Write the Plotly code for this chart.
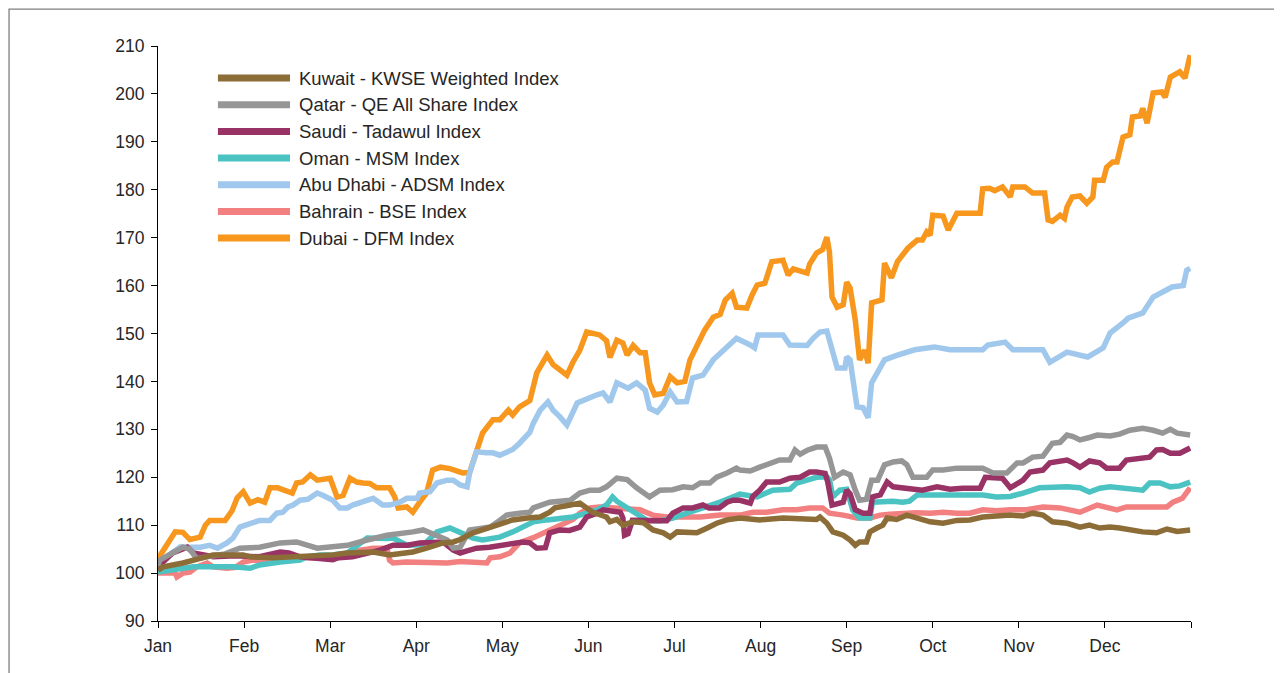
import plotly.graph_objects as go

# x = months elapsed since 1 Jan (0 = Jan, 12 = end of Dec); y = index level (rebased to 100)
month_labels = ["Jan", "Feb", "Mar", "Apr", "May", "Jun", "Jul", "Aug", "Sep", "Oct", "Nov", "Dec", ""]
month_ticks = list(range(13))

kuwait = [(0, 100.6), (0.06, 101.3), (0.29, 102.1), (0.41, 102.7), (0.52, 103.4), (0.64, 103.8), (0.99, 103.8),
          (1.07, 103.4), (1.34, 103.2), (1.65, 103.4), (2.03, 103.8), (2.20, 104.2), (2.50, 104.4), (2.69, 103.8),
          (2.96, 104.4), (3.12, 105.2), (3.31, 106.3), (3.43, 106.5), (3.51, 107), (3.66, 108.4), (3.82, 109.4),
          (3.97, 110.4), (4.12, 111.1), (4.29, 111.5), (4.44, 111.7), (4.55, 112.7), (4.61, 113.6), (4.79, 114.2),
          (4.90, 114.6), (5.05, 112.7), (5.21, 111.7), (5.25, 110.7), (5.33, 111.2), (5.40, 110), (5.52, 110.7),
          (5.64, 110.5), (5.75, 109), (5.87, 108.4), (5.95, 107.5), (6.03, 108.6), (6.26, 108.4), (6.38, 109.4),
          (6.49, 110.4), (6.61, 111.1), (6.76, 111.5), (6.99, 111.1), (7.26, 111.5), (7.65, 111.2), (7.69, 111.7),
          (7.77, 110.4), (7.84, 108.6), (7.96, 107.9), (8.04, 106.9), (8.10, 105.8), (8.15, 106.5), (8.23, 106.5),
          (8.27, 108.6), (8.35, 109.4), (8.42, 110), (8.47, 111.5), (8.58, 111.2), (8.70, 112.1), (8.82, 111.5),
          (8.97, 110.7), (9.12, 110.4), (9.28, 111), (9.43, 111.1), (9.58, 111.7), (9.90, 112.1), (10.05, 111.9),
          (10.16, 112.5), (10.28, 112.1), (10.39, 110.7), (10.56, 110.4), (10.71, 109.6), (10.82, 110),
          (10.94, 109.4), (11.06, 109.6), (11.17, 109.4), (11.29, 109), (11.44, 108.6), (11.60, 108.4),
          (11.72, 109.2), (11.84, 108.7), (11.99, 109)]

qatar = [(0, 101.5), (0.02, 102.7), (0.17, 104.2), (0.29, 105.4), (0.37, 105), (0.45, 103), (0.60, 103.5),
         (0.78, 104), (0.95, 105.2), (1.18, 105.4), (1.42, 106.3), (1.61, 106.5), (1.85, 105.2), (2.20, 105.8),
         (2.43, 106.9), (2.54, 107.5), (2.66, 107.9), (2.96, 108.6), (3.08, 109), (3.16, 108.4), (3.28, 107.5),
         (3.36, 106.9), (3.43, 105.2), (3.51, 105.4), (3.62, 109), (3.74, 109.2), (3.86, 109.6), (3.97, 111),
         (4.05, 112.1), (4.20, 112.5), (4.32, 112.7), (4.36, 113.6), (4.55, 114.8), (4.79, 115.2), (4.90, 116.7),
         (5.02, 117.3), (5.13, 117.3), (5.21, 118), (5.33, 119.8), (5.45, 119.5), (5.56, 117.8), (5.71, 115.9),
         (5.83, 117.3), (5.98, 117.4), (6.10, 118), (6.21, 117.8), (6.30, 118.8), (6.41, 118.8), (6.49, 120),
         (6.61, 120.9), (6.72, 121.9), (6.76, 121.5), (6.88, 121.3), (6.99, 122.1), (7.11, 123), (7.22, 123.6),
         (7.34, 123.6), (7.40, 125.7), (7.46, 124.8), (7.55, 125.7), (7.65, 126.3), (7.75, 126.3), (7.80, 124),
         (7.86, 120), (7.96, 121.1), (8.04, 120.5), (8.10, 117.3), (8.15, 115.2), (8.23, 115.4), (8.29, 119.4),
         (8.36, 119.4), (8.44, 122.6), (8.54, 123.2), (8.64, 123.4), (8.70, 122.6), (8.77, 120), (8.93, 120),
         (9.00, 121.5), (9.12, 121.5), (9.28, 121.9), (9.58, 121.9), (9.70, 120.9), (9.86, 120.9), (9.98, 123),
         (10.05, 123), (10.16, 124.2), (10.28, 124.4), (10.39, 127.1), (10.48, 127.3), (10.56, 128.8),
         (10.63, 128.5), (10.71, 127.8), (10.82, 128.3), (10.91, 128.8), (11.06, 128.6), (11.17, 129),
         (11.29, 129.8), (11.44, 130.2), (11.56, 129.8), (11.67, 129.2), (11.76, 130), (11.84, 129.2),
         (11.99, 128.8)]

saudi = [(0, 101), (0.02, 101.7), (0.17, 104.2), (0.34, 105.4), (0.41, 104.2), (0.49, 104), (0.64, 103.4),
         (0.90, 103.6), (1.18, 103.4), (1.42, 104.4), (1.52, 104.2), (1.65, 103.4), (1.88, 103.2), (2.03, 102.8),
         (2.10, 103.2), (2.26, 103.4), (2.40, 104), (2.58, 104.8), (2.73, 105.8), (2.90, 105.8), (3.04, 106.3),
         (3.20, 106.3), (3.31, 106.5), (3.43, 104.8), (3.51, 104.2), (3.58, 104.6), (3.70, 105.2), (3.85, 105.4),
         (3.97, 105.8), (4.12, 106.1), (4.24, 106.5), (4.32, 106.3), (4.40, 105.2), (4.50, 105.3), (4.55, 108.4),
         (4.67, 109), (4.78, 108.9), (4.90, 109.6), (4.98, 111.7), (5.10, 112.5), (5.17, 113.2), (5.37, 112.7),
         (5.40, 111.5), (5.42, 107.9), (5.46, 108.2), (5.51, 111), (5.91, 110.9), (5.98, 112.5), (6.10, 113.6),
         (6.21, 113.6), (6.33, 114.2), (6.40, 113.6), (6.52, 113.6), (6.61, 114.8), (6.68, 115.2), (6.76, 115.2),
         (6.88, 114.6), (6.91, 116), (6.99, 117.3), (7.07, 119), (7.22, 119), (7.34, 119.8), (7.46, 120),
         (7.57, 121.1), (7.65, 121.1), (7.75, 120.8), (7.78, 119), (7.83, 114.2), (7.89, 114.5), (7.96, 114.8),
         (8.00, 117.3), (8.04, 116.5), (8.10, 113.2), (8.19, 112.5), (8.27, 112.5), (8.30, 115.9), (8.39, 116.3),
         (8.47, 119), (8.54, 118), (8.70, 117.8), (8.88, 117.3), (9.05, 118), (9.20, 117.5), (9.35, 117.7),
         (9.55, 117.7), (9.61, 120), (9.81, 119.8), (9.90, 117.8), (10.05, 119.4), (10.13, 121.1), (10.28, 121.5),
         (10.36, 123), (10.56, 123.6), (10.63, 123), (10.71, 122.1), (10.82, 123.4), (10.94, 123), (11.02, 121.9),
         (11.17, 121.9), (11.25, 123.6), (11.41, 123.8), (11.52, 124.2), (11.60, 125.7), (11.67, 125.8),
         (11.76, 125), (11.87, 125), (11.99, 126.1)]

oman = [(0, 100.2), (0.17, 100.6), (0.41, 101.3), (0.87, 101.3), (1.07, 101), (1.18, 101.7), (1.30, 102.1),
        (1.42, 102.3), (1.65, 102.7), (1.73, 103.4), (1.88, 103.8), (2.03, 103.8), (2.20, 104.2), (2.35, 106.3),
        (2.43, 107.3), (2.66, 107.2), (2.73, 107.3), (2.89, 105.8), (3.04, 105.9), (3.12, 106.5), (3.24, 108.6),
        (3.39, 109.4), (3.51, 108.4), (3.66, 107.3), (3.77, 106.9), (3.97, 107.5), (4.12, 108.6), (4.24, 109.6),
        (4.36, 110.7), (4.52, 111.1), (4.67, 111.5), (4.82, 111.7), (4.98, 112.5), (5.10, 113.2), (5.21, 114.2),
        (5.28, 115.9), (5.33, 115), (5.40, 114.2), (5.48, 113.2), (5.56, 112.1), (5.68, 111), (5.83, 110.9),
        (5.98, 111.5), (6.14, 112.5), (6.38, 113.8), (6.53, 114.8), (6.64, 115.6), (6.76, 116.5), (6.96, 115.9),
        (7.14, 117.3), (7.34, 117.5), (7.42, 118.8), (7.54, 119.4), (7.65, 120), (7.77, 120.1), (7.80, 119.5),
        (7.84, 115.9), (7.92, 117.3), (8.00, 117.5), (8.07, 113.2), (8.15, 111.5), (8.27, 111.5), (8.30, 114.8),
        (8.54, 115), (8.65, 114.8), (8.73, 115), (8.82, 116.3), (9.58, 116.3), (9.74, 115.9), (9.90, 116),
        (10.05, 116.7), (10.24, 117.8), (10.56, 118), (10.71, 117.8), (10.82, 116.9), (10.94, 117.7),
        (11.06, 118), (11.44, 117.3), (11.52, 118.8), (11.64, 118.8), (11.76, 118), (11.87, 118.2), (11.99, 119)]

abu_dhabi = [(0, 102), (0.14, 104), (0.26, 105.5), (0.37, 105.4), (0.49, 105.4), (0.60, 105.8), (0.69, 105.2),
             (0.80, 106.3), (0.87, 107.3), (0.95, 109.6), (1.07, 110.4), (1.18, 111), (1.30, 111), (1.38, 112.5),
             (1.45, 112.7), (1.51, 113.8), (1.57, 114.2), (1.65, 115.2), (1.74, 115.4), (1.85, 116.7),
             (1.92, 116.2), (2.03, 115.2), (2.11, 113.6), (2.20, 113.6), (2.26, 114.2), (2.35, 114.8),
             (2.43, 115.2), (2.50, 115.6), (2.61, 114.2), (2.69, 114.2), (2.81, 114.8), (2.89, 115.6),
             (3.01, 115.6), (3.04, 116.7), (3.16, 117), (3.24, 118.8), (3.36, 119.4), (3.43, 119.4), (3.51, 118.4),
             (3.59, 118), (3.62, 120.9), (3.70, 125.3), (3.82, 125.1), (3.89, 125.1), (3.97, 124.6), (4.05, 125.3),
             (4.12, 125.8), (4.20, 127.1), (4.32, 129.4), (4.36, 131.3), (4.44, 134), (4.53, 135.7), (4.59, 134),
             (4.67, 132.6), (4.75, 130.9), (4.87, 135.5), (4.94, 136.1), (5.10, 137.2), (5.17, 137.6),
             (5.25, 135.7), (5.33, 139.7), (5.46, 138.6), (5.56, 139.7), (5.66, 138.2), (5.71, 134.4),
             (5.80, 133.6), (5.87, 135.1), (5.95, 137.8), (6.03, 135.7), (6.14, 135.8), (6.21, 140.7),
             (6.33, 141.3), (6.45, 144.5), (6.53, 145.9), (6.61, 147.2), (6.72, 149), (6.88, 147.6), (6.93, 147),
             (6.97, 149.7), (7.26, 149.7), (7.34, 147.6), (7.54, 147.5), (7.61, 149), (7.69, 150.3), (7.77, 150.5),
             (7.83, 147), (7.89, 142.8), (7.98, 142.8), (8.00, 145.1), (8.04, 144.5), (8.12, 134.7), (8.19, 134.5),
             (8.25, 132.4), (8.29, 139.7), (8.36, 141.8), (8.44, 144.5), (8.59, 145.5), (8.79, 146.6),
             (9.02, 147.2), (9.20, 146.6), (9.58, 146.6), (9.64, 147.6), (9.84, 148.2), (9.93, 146.6),
             (10.28, 146.6), (10.36, 144), (10.56, 146.1), (10.80, 145.1), (10.98, 147), (11.06, 150.1),
             (11.21, 152.2), (11.27, 153.2), (11.44, 154.3), (11.50, 155.9), (11.56, 157.6), (11.78, 159.7),
             (11.91, 160), (11.95, 163.2), (11.99, 163.6)]

bahrain = [(0, 100), (0.20, 100), (0.22, 99.2), (0.29, 100), (0.37, 100.2), (0.45, 101.3), (0.57, 102.1),
           (0.64, 101.3), (0.80, 101), (0.90, 101.2), (0.99, 102.3), (1.10, 102.7), (1.42, 102.6), (1.57, 103.2),
           (1.85, 103.2), (2.03, 103.2), (2.20, 103.8), (2.35, 104.8), (2.50, 105.2), (2.66, 105.2), (2.69, 102.7),
           (2.73, 102.1), (2.89, 102.3), (3.16, 102.1), (3.36, 102.1), (3.51, 102.4), (3.74, 102.3), (3.82, 102.1),
           (3.86, 103.2), (3.97, 103.4), (4.09, 104.2), (4.20, 106.3), (4.36, 107.4), (4.52, 108.7), (4.67, 109.8),
           (4.82, 111.2), (4.90, 112.5), (5.02, 113.6), (5.13, 113.8), (5.28, 113.6), (5.45, 113.6), (5.60, 113.2),
           (5.75, 112.1), (5.91, 111.7), (6.30, 111.7), (6.53, 112.1), (6.76, 112.1), (6.91, 112.7), (7.07, 112.7),
           (7.26, 113.2), (7.42, 113.2), (7.57, 113.6), (7.72, 113.6), (7.80, 112.5), (7.96, 112.1), (8.12, 111.5),
           (8.27, 111.5), (8.39, 112.1), (8.50, 112.3), (8.65, 112.5), (8.81, 112.6), (8.97, 112.5), (9.12, 112.7),
           (9.28, 112.5), (9.43, 112.5), (9.58, 113.2), (9.74, 113), (9.90, 113.2), (10.09, 113.2), (10.28, 113.8),
           (10.48, 113.6), (10.71, 112.7), (10.91, 114.2), (11.14, 113.2), (11.25, 113.8), (11.72, 113.8),
           (11.79, 114.8), (11.90, 115.6), (11.95, 116.7), (11.99, 117.8)]

dubai = [(0, 103), (0.20, 108.6), (0.29, 108.5), (0.37, 107), (0.49, 107.5), (0.55, 110), (0.60, 111), (0.78, 111),
         (0.86, 113), (0.92, 115.7), (0.99, 117), (1.07, 114.6), (1.16, 115.3), (1.24, 114.8), (1.30, 117.8),
         (1.39, 117.8), (1.56, 116.7), (1.61, 118.8), (1.68, 119), (1.77, 120.5), (1.85, 119.4), (2.00, 119.8),
         (2.08, 115.9), (2.15, 116.2), (2.23, 119.8), (2.31, 119), (2.38, 118.8), (2.46, 118.7), (2.54, 117.8),
         (2.69, 117.8), (2.75, 115.9), (2.79, 113.6), (2.89, 113.8), (2.96, 112.7), (3.04, 114.8), (3.12, 116.7),
         (3.19, 121.5), (3.28, 122.1), (3.39, 121.8), (3.54, 120.9), (3.62, 121), (3.77, 129.2), (3.89, 132),
         (3.97, 132), (4.07, 134), (4.12, 133), (4.20, 134.7), (4.32, 136), (4.40, 141.8), (4.52, 145.5),
         (4.59, 143.5), (4.75, 141.3), (4.82, 144), (4.90, 146.5), (4.98, 150.3), (5.13, 149.7), (5.21, 148.5),
         (5.25, 145), (5.33, 148.6), (5.40, 148), (5.45, 145.5), (5.52, 147.5), (5.60, 146), (5.66, 146),
         (5.71, 139.7), (5.77, 137.2), (5.87, 137.5), (5.95, 141), (6.03, 139.7), (6.12, 140), (6.18, 144.5),
         (6.26, 147.2), (6.35, 150.7), (6.45, 153.4), (6.53, 154), (6.59, 157), (6.67, 158.4), (6.72, 155.5),
         (6.84, 155.3), (6.90, 158), (6.96, 160.1), (7.05, 160.5), (7.13, 165), (7.26, 165.3), (7.32, 162.2),
         (7.38, 163.5), (7.54, 162.6), (7.57, 164.5), (7.65, 166.8), (7.72, 167.5), (7.77, 170.1), (7.80, 167),
         (7.83, 157.6), (7.89, 155.5), (7.96, 156), (8.00, 160.7), (8.04, 159.5), (8.10, 152.8), (8.15, 144.5),
         (8.21, 146.5), (8.25, 143.8), (8.29, 156.4), (8.41, 157), (8.44, 164.7), (8.52, 161.6), (8.59, 165),
         (8.71, 167.8), (8.82, 169.5), (8.88, 169.5), (8.93, 171.2), (8.97, 170.5), (9.00, 174.7), (9.12, 174.5),
         (9.18, 171.6), (9.28, 175.1), (9.55, 175.1), (9.58, 180.2), (9.66, 180.3), (9.72, 179.8), (9.81, 180.6),
         (9.90, 178.5), (9.93, 180.6), (10.07, 180.6), (10.16, 179.3), (10.30, 179.3), (10.34, 173.7),
         (10.39, 173.4), (10.48, 174.7), (10.53, 174), (10.56, 176.4), (10.62, 178.5), (10.71, 178.7),
         (10.79, 177.2), (10.86, 178.5), (10.88, 182), (10.98, 182), (11.02, 184.7), (11.09, 185.8),
         (11.14, 185.8), (11.21, 191), (11.29, 191.5), (11.32, 195.2), (11.41, 195.4), (11.44, 197),
         (11.49, 193.9), (11.52, 196.5), (11.56, 200.2), (11.66, 200.4), (11.70, 199.3), (11.76, 203.5),
         (11.87, 204.6), (11.93, 203.3), (11.99, 208.1)]

series_names = ["Kuwait - KWSE Weighted Index", "Qatar - QE All Share Index", "Saudi - Tadawul Index",
                "Oman - MSM Index", "Abu Dhabi - ADSM Index", "Bahrain - BSE Index", "Dubai - DFM Index"]
series_data = [kuwait, qatar, saudi, oman, abu_dhabi, bahrain, dubai]
series_colors = ["#8C6D37", "#969696", "#993366", "#4CC3C3", "#A0C8EC", "#F28080", "#F7971E"]

font_family = "Liberation Sans, Arial, Helvetica, sans-serif"
text_color = "#262626"

fig = go.Figure()
# draw from last to first so Kuwait ends on top
for name, data, color in reversed(list(zip(series_names, series_data, series_colors))):
    xs = [p[0] for p in data]
    ys = [p[1] for p in data]
    fig.add_trace(go.Scatter(x=xs, y=ys, mode="lines", name=name, showlegend=False,
                             line=dict(color=color, width=5.5, shape="linear")))

# manual legend (long swatches as in the reference)
leg_x0, leg_x1, leg_tx = 0.058, 0.1278, 0.1346
leg_y0, leg_dy = 0.9443, 0.0464
shapes = []
annotations = []
for i, (name, color) in enumerate(zip(series_names, series_colors)):
    yy = leg_y0 - i * leg_dy
    shapes.append(dict(type="line", xref="paper", yref="paper", x0=leg_x0, x1=leg_x1, y0=yy, y1=yy,
                       line=dict(color=color, width=7)))
    annotations.append(dict(xref="paper", yref="paper", x=leg_tx, y=yy, text=name, showarrow=False,
                            xanchor="left", yanchor="middle", font=dict(size=18.5, color=text_color, family=font_family)))

# outer frame
shapes.append(dict(type="rect", xref="paper", yref="paper", x0=-0.1442, x1=1.2, y0=-0.2, y1=1.0643,
                   line=dict(color="#7f7f7f", width=1.3), fillcolor="rgba(0,0,0,0)", layer="below"))

fig.update_layout(
    width=1274, height=665,
    margin=dict(l=150, r=91, t=38, b=52),
    paper_bgcolor="white", plot_bgcolor="white",
    font=dict(family=font_family, size=17, color=text_color),
    shapes=shapes, annotations=annotations,
    showlegend=False,
    xaxis=dict(range=[0, 12], tickmode="array", tickvals=month_ticks, ticktext=month_labels,
               showgrid=False, zeroline=False, showline=True, linecolor="#000", linewidth=1,
               ticks="outside", ticklen=6, tickcolor="#000", tickwidth=1, ticklabelstandoff=3,
               tickfont=dict(size=17.5, color=text_color)),
    yaxis=dict(range=[90, 210], tickmode="linear", tick0=90, dtick=10,
               showgrid=False, zeroline=False, showline=True, linecolor="#000", linewidth=1,
               ticks="outside", ticklen=6, tickcolor="#000", tickwidth=1, ticklabelstandoff=3,
               tickfont=dict(size=17.5, color=text_color)),
)

fig.write_html("out.html")
